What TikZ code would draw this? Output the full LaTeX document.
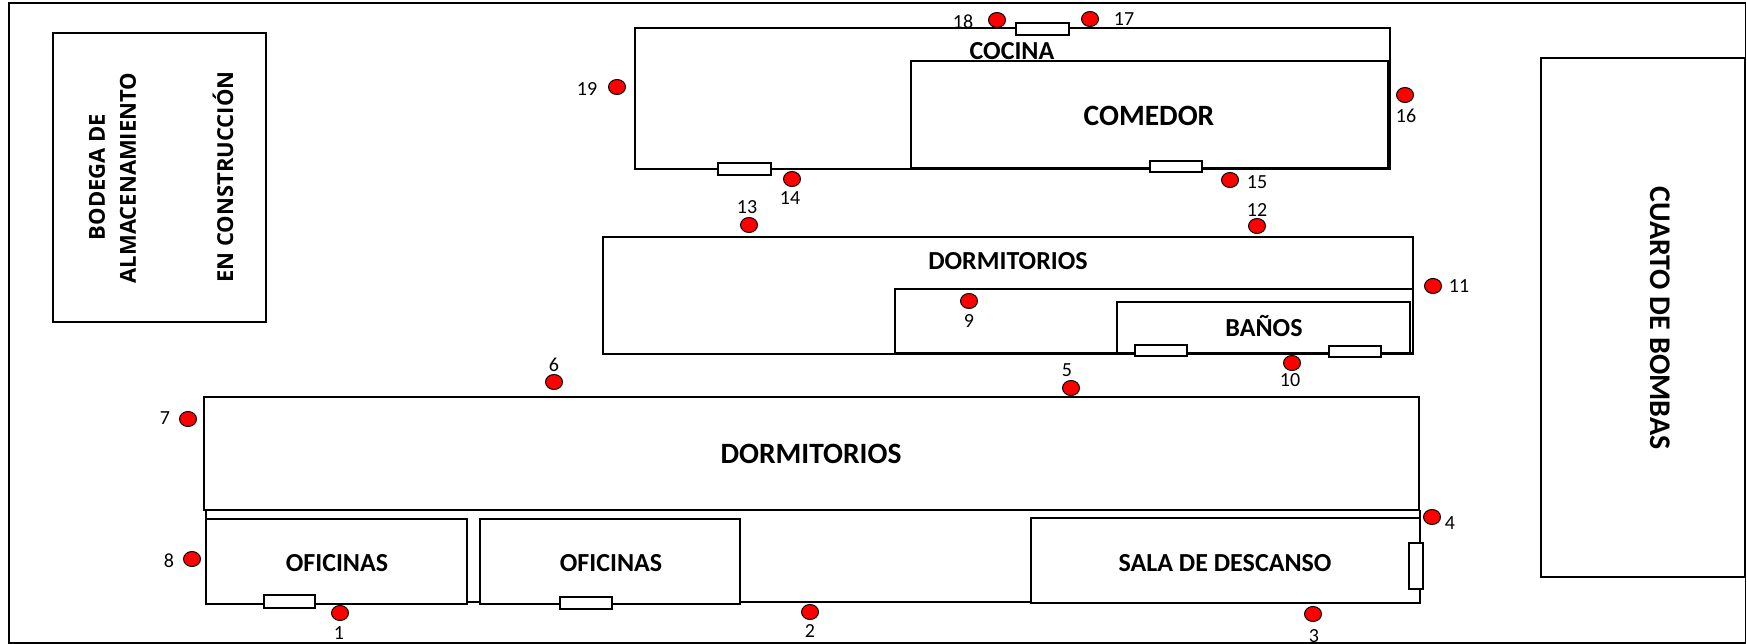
\documentclass[tikz,border=0pt]{standalone}
\usepackage{fontspec}
\setmainfont{Carlito}
\newfontfamily\opensans{Open Sans}
\tikzset{
  wall/.style={draw=black,line width=1.6pt},
  door/.style={draw=black,fill=white,line width=1.6pt},
  sensor/.style={draw=black,fill=red,line width=1pt},
  num/.style={inner sep=0pt,font=\fontsize{20}{20}\selectfont},
  room/.style={inner sep=0pt,font=\fontsize{26}{26}\selectfont\bfseries},
  roombig/.style={inner sep=0pt,font=\fontsize{29.5}{29.5}\selectfont\bfseries},
  vert/.style={inner sep=0pt,rotate=90,font=\fontsize{22}{22}\opensans\bfseries},
}
\newcommand{\sensorat}[5]{%
  \fill[sensor] (#2,#3) ellipse [x radius=8.5,y radius=7.5];
  \node[num] (#1) at (#5) {#4};}
\begin{document}
\begin{tikzpicture}[x=1pt,y=-1pt]
\useasboundingbox (0,0) rectangle (1747,644);
\fill[white] (0,0) rectangle (1747,644);
% frame
\draw[wall] (9,643) rectangle (1745.5,3);
% store
\draw[wall] (53,33) rectangle (266,322);
% pump room
\draw[wall] (1541,58) rectangle (1745,577);
% kitchen / dining
\draw[wall] (635,28) rectangle (1390,169);
\draw[wall] (911,61) rectangle (1388,168);
% dorm 2
\draw[wall] (603,237) rectangle (1413,354);
\draw[wall] (895,289) rectangle (1413,352.5);
\draw[wall] (1117,302) rectangle (1410,352.5);
% big dorm and lower range
\draw[wall] (204,397) rectangle (1419,510);
\draw[wall] (206,510) -- (206,519);
\draw[wall] (1420,510) -- (1420,518);
\draw[wall] (467,602) -- (480,602);
\draw[wall] (740,602) -- (1031,602);
\draw[wall] (206,519) rectangle (467,604);
\draw[wall] (480,519) rectangle (740,604);
\draw[wall] (1031,518) rectangle (1420,603);
% doors
\draw[door] (1016,23) rectangle (1069,35);
\draw[door] (718,163) rectangle (771,175);
\draw[door] (1150,161) rectangle (1202,172);
\draw[door] (1135,345) rectangle (1187,356);
\draw[door] (1329,346) rectangle (1381,357);
\draw[door] (264,595) rectangle (315,608);
\draw[door] (560,597) rectangle (612,609);
\draw[door] (1409,543) rectangle (1423,589);
% labels
\node[room] (cocina) at (1012,51) {COCINA};
\node[roombig] (comedor) at (1149,116) {COMEDOR};
\node[room] (dormb) at (1008,261) {DORMITORIOS};
\node[room] (banos) at (1264,326) {BAÑOS};
\node[roombig] (dorma) at (811,454) {DORMITORIOS};
\node[room] (ofia) at (337,563) {OFICINAS};
\node[room] (ofib) at (611,563) {OFICINAS};
\node[room] (sala) at (1225,563) {SALA DE DESCANSO};
\node[vert] (bodega) at (97,177) {BODEGA DE};
\node[vert] (almacen) at (128,178) {ALMACENAMIENTO};
\node[vert] (construc) at (223,177) {EN CONSTRUCCIÓN};
\node[inner sep=0pt,rotate=-90,font=\fontsize{30}{30}\selectfont\bfseries] (bombas) at (1660,318) {CUARTO DE BOMBAS};
% sensors
\sensorat{n1}{340}{613}{1}{339,633}
\sensorat{n2}{810}{612}{2}{810,631}
\sensorat{n3}{1313}{614}{3}{1314,636}
\sensorat{n4}{1432}{517}{4}{1450,523}
\sensorat{n5}{1071}{388}{5}{1067,370}
\sensorat{n6}{554}{382}{6}{554,365}
\sensorat{n7}{188}{419}{7}{165,418}
\sensorat{n8}{192}{559}{8}{169,561}
\sensorat{n9}{969}{301}{9}{969,321}
\sensorat{n10}{1292}{363}{10}{1290,380}
\sensorat{n11}{1433}{286}{11}{1459,286}
\sensorat{n12}{1257}{226}{12}{1257,210}
\sensorat{n13}{749}{225}{13}{747,207}
\sensorat{n14}{792}{179}{14}{790,198}
\sensorat{n15}{1230}{180}{15}{1257,182}
\sensorat{n16}{1405}{95}{16}{1406,116}
\sensorat{n17}{1090}{19}{17}{1124,19}
\sensorat{n18}{997}{20}{18}{963,22}
\sensorat{n19}{617}{87}{19}{587,89}
\end{tikzpicture}
\end{document}
